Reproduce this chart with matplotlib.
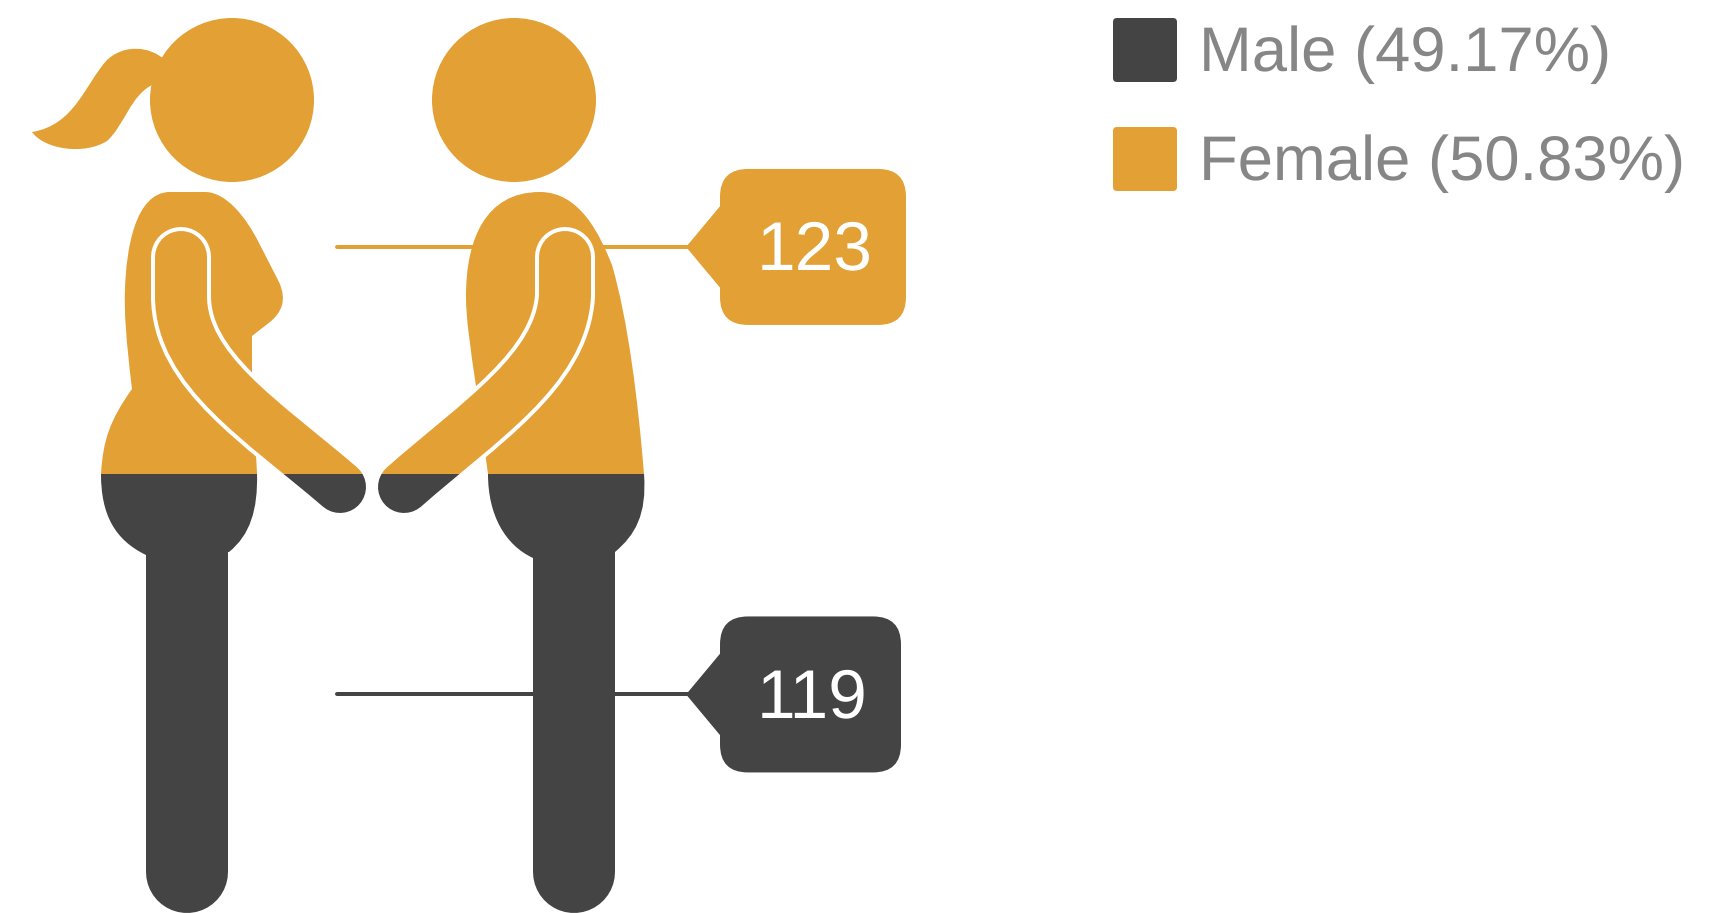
import numpy as np
import matplotlib
matplotlib.use('Agg')
import matplotlib.pyplot as plt
from matplotlib.patches import Circle, FancyBboxPatch, PathPatch, Polygon, Rectangle
from matplotlib.path import Path

plt.rcParams['font.family'] = ['Liberation Sans', 'DejaVu Sans']
plt.rcParams['text.hinting'] = 'none'

groups = ['Male', 'Female']
counts = [119, 123]

DARK = '#444444'
ORANGE = '#E3A034'
GREY = '#868686'

# pictogram outlines, in reference pixels: start point, then one point = line, three = bezier
PONYTAIL = [(165, 60), [(150, 46), (124, 44), (107, 60)], [(85, 84), (75, 125), (32, 132)],
            [(45, 150), (85, 155), (107, 141)], [(125, 125), (130, 95), (154, 84)], [(175, 70)]]
FEMALE_BODY = [(170, 192), [(205, 192)], [(225, 192), (245, 215), (259, 243)], [(279, 282)],
               [(287, 300), (282, 312), (270, 322)], [(252, 336)], [(252, 379)], [(257, 473)],
               [(258, 510), (250, 535), (229, 552)], [(146, 555)], [(115, 540), (101, 515), (101, 474)],
               [(103, 440), (110, 420), (132, 389)], [(126, 340), (124, 310), (125, 290)],
               [(126, 250), (135, 192), (170, 192)]]
FEMALE_ARM = [(181, 257), [(181, 296)], [(181, 370), (262, 420), (340, 487)]]
MALE_BODY = [(540, 192), [(580, 192), (600, 235), (612, 265)], [(628, 320), (638, 400), (644, 474)],
             [(647, 515), (635, 535), (615, 552)], [(533, 558)], [(505, 545), (488, 515), (488, 474)],
             [(477, 393)], [(470, 345), (466, 320), (466, 296)], [(466, 240), (485, 192), (540, 192)]]
MALE_ARM = [(565, 257), [(565, 296)], [(560, 370), (480, 420), (404, 487)]]

ICON_TOP = 20
ICON_BOTTOM = 913


def outline(shape):
    verts = [shape[0]]
    codes = [Path.MOVETO]
    for seg in shape[1:]:
        verts += seg
        codes += [Path.LINETO] if len(seg) == 1 else [Path.CURVE4] * 3
    return Path(verts, codes)


def px(w):
    return w * 72 / 100


def draw_person(ax, body, arm, head_x, leg_x, color, clip, z):
    parts = [
        Circle((head_x, 100), 82, fc=color, ec='none'),
        PathPatch(outline(body), fc=color, ec='none'),
        PathPatch(Path([(leg_x, 545), (leg_x, 872)]), fc='none', ec=color, lw=px(82), capstyle='round'),
        PathPatch(outline(arm), fc='none', ec='white', lw=px(60), capstyle='round'),
        PathPatch(outline(arm), fc='none', ec=color, lw=px(52), capstyle='round'),
    ]
    for p in parts:
        p.set_zorder(z)
        ax.add_patch(p)
        # add_patch resets the clip, so it has to go on afterwards
        p.set_clip_path(clip)


def draw_callout(ax, y, right, color, label):
    ax.plot([337, 690], [y, y], color=color, lw=px(4), solid_capstyle='round', zorder=1)
    ax.add_patch(Polygon([(687, y), (722, y - 42), (722, y + 42)], closed=True, fc=color, ec=color,
                         lw=1, joinstyle='round', zorder=1))
    ax.add_patch(FancyBboxPatch((720 + 28, y - 78 + 28), right - 720 - 56, 156 - 56,
                                boxstyle='round,pad=28,rounding_size=28', fc=color, ec='none', zorder=1))
    ax.text((720 + right) / 2 + 2, y + 5, label, color='white', fontsize=50, ha='center', va='center', zorder=2)


fig = plt.figure(figsize=(17.32, 9.13), dpi=100)
ax = fig.add_axes([0, 0, 1, 1])
ax.set_xlim(0, 1732)
ax.set_ylim(913, 0)
ax.axis('off')

male, female = counts
total = male + female
split_y = ICON_TOP + (ICON_BOTTOM - ICON_TOP) * female / total

clip_top = Rectangle((0, 0), 700, split_y, transform=ax.transData)
clip_bottom = Rectangle((0, split_y), 700, 913 - split_y, transform=ax.transData)

for clip, color in [(clip_top, ORANGE), (clip_bottom, DARK)]:
    draw_person(ax, FEMALE_BODY, FEMALE_ARM, 232, 187, color, clip, 3)
    draw_person(ax, MALE_BODY, MALE_ARM, 514, 574, color, clip, 3)
ax.add_patch(PathPatch(outline(PONYTAIL), fc=ORANGE, ec='none', zorder=3))

draw_callout(ax, (ICON_TOP + split_y) / 2, 906, ORANGE, str(female))
draw_callout(ax, (split_y + ICON_BOTTOM) / 2 + 1, 901, DARK, str(male))

# legend
legend_y = [50, 159]
for name, n, y, color in zip(groups, counts, legend_y, [DARK, ORANGE]):
    ax.add_patch(FancyBboxPatch((1116, y - 29), 58, 58, boxstyle='round,pad=3,rounding_size=4',
                                fc=color, ec='none'))
    ax.text(1199, y + 5, f'{name} ({n / total * 100:.2f}%)', color=GREY, fontsize=45.6, ha='left', va='center')

fig.savefig('out.png', dpi=100)
